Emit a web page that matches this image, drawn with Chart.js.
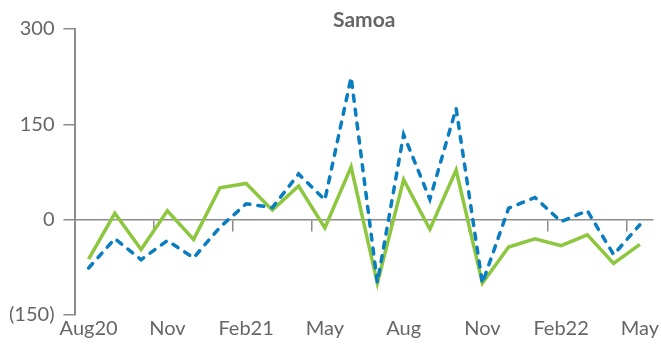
<!DOCTYPE html>
<html>
<head>
<meta charset="utf-8">
<script src="https://cdn.jsdelivr.net/npm/chart.js@4"></script>
<style>
  html, body { margin: 0; padding: 0; background: #ffffff; }
  #wrap { width: 661px; height: 345px; }
</style>
</head>
<body>
<div id="wrap"><canvas id="chart" width="661" height="345"></canvas></div>
<script>
// Monthly series, Aug 2020 – May 2022
const months = ['Aug20','Sep20','Oct20','Nov20','Dec20','Jan21','Feb21','Mar21','Apr21','May21','Jun21','Jul21',
                'Aug21','Sep21','Oct21','Nov21','Dec21','Jan22','Feb22','Mar22','Apr22','May22'];
const tickLabels = ['Aug20','','','Nov','','','Feb21','','','May','','',
                    'Aug','','','Nov','','','Feb22','','','May'];
const seriesGreen = [-62, 10, -47, 14, -31, 50, 57, 15, 53, -13, 83, -100, 63, -15, 78, -100, -43, -30, -41, -24, -69, -39];
const seriesBlue  = [-76, -30, -63, -33, -60, -12, 25, 19, 72, 31, 224, -99, 134, 32, 175, -100, 18, 35, -3, 14, -55, -8];
const yTicks = [-150, 0, 150, 300];
const chartTitle = 'Samoa';

const AXIS = '#8c8c8c';
const TEXT = '#666666';
const FONT = 'Lato';

// Title centred over the plot area rather than the whole canvas
const plotTitle = {
  id: 'plotTitle',
  afterDraw(chart) {
    const { ctx, chartArea } = chart;
    ctx.save();
    ctx.font = 'bold 21px ' + FONT;
    ctx.fillStyle = TEXT;
    ctx.textAlign = 'center';
    ctx.textBaseline = 'middle';
    ctx.fillText(chartTitle, (chartArea.left + chartArea.right) / 2, 20);
    ctx.restore();
  }
};

new Chart(document.getElementById('chart'), {
  type: 'line',
  data: {
    labels: months,
    datasets: [
      {
        data: seriesBlue,
        borderColor: '#0a7dc1',
        borderWidth: 3.5,
        borderDash: [6, 8],
        borderCapStyle: 'round',
        pointRadius: 0,
        tension: 0,
        fill: false
      },
      {
        data: seriesGreen,
        borderColor: '#8dc63f',
        borderWidth: 3.5,
        pointRadius: 0,
        tension: 0,
        fill: false
      }
    ]
  },
  plugins: [plotTitle],
  options: {
    responsive: false,
    animation: false,
    layout: { padding: { left: 0, right: 8, top: 29, bottom: 2 } },
    plugins: {
      legend: { display: false },
      tooltip: { enabled: false },
      title: { display: false }
    },
    scales: {
      x: {
        type: 'category',
        offset: true,
        afterFit: scale => { scale.paddingLeft = 0; scale.paddingRight = 0; },
        grid: { display: false, drawTicks: false },
        border: { display: false },
        ticks: {
          autoSkip: false,
          maxRotation: 0,
          padding: 4,
          color: TEXT,
          font: { family: FONT, size: 20, lineHeight: 1 },
          callback: (v, i) => tickLabels[i]
        }
      },
      xZero: {
        type: 'category',
        labels: months,
        position: { y: 0 },
        offset: true,
        afterFit: scale => { scale.height = 0; scale.paddingLeft = 0; scale.paddingRight = 0; },
        grid: {
          offset: true,
          drawOnChartArea: false,
          drawTicks: true,
          tickLength: 11,
          lineWidth: 1.5,
          color: ctx => (ctx.index > 0 && ctx.index % 3 === 0) ? AXIS : 'rgba(0,0,0,0)'
        },
        border: { display: true, color: AXIS, width: 1.5 },
        ticks: { display: false, autoSkip: false }
      },
      y: {
        min: -150,
        max: 300,
        afterBuildTicks: scale => { scale.ticks = yTicks.map(v => ({ value: v })); },
        grid: {
          drawOnChartArea: false,
          drawTicks: true,
          tickLength: 12,
          lineWidth: 1.5,
          color: AXIS
        },
        border: { display: true, color: AXIS, width: 2 },
        ticks: {
          padding: 9,
          color: TEXT,
          font: { family: FONT, size: 20 },
          callback: v => v < 0 ? '(' + Math.abs(v) + ')' : String(v)
        }
      }
    }
  }
});
</script>
</body>
</html>
